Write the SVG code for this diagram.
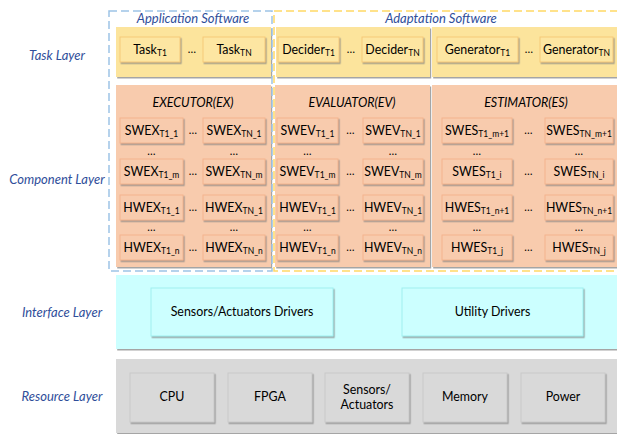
<svg xmlns="http://www.w3.org/2000/svg" width="617" height="434" viewBox="0 0 617 434">
<defs>
<filter id="sh" x="-10%" y="-10%" width="130%" height="140%">
<feDropShadow dx="1.2" dy="1.5" stdDeviation="0.7" flood-color="#7f7f7f" flood-opacity="0.7"/>
</filter>
</defs>
<style>
text{font-family:Lato,"Liberation Sans",sans-serif;fill:#000;}
.lay{font-size:13px;font-style:italic;fill:#2F4E9A;text-anchor:middle;}
.title{font-size:12.5px;font-style:italic;text-anchor:middle;}
.stitle{font-size:13px;font-style:italic;fill:#2F4E9A;text-anchor:middle;}
.t{font-size:12.4px;text-anchor:middle;}
.sub{font-size:8.5px;}
.dots{font-size:11px;text-anchor:middle;}
.ybg{fill:#FCE49C;filter:url(#sh);}
.ybox{fill:#FDE6A2;stroke:#F5C978;stroke-width:1;filter:url(#sh);}
.obg{fill:#F8CBAD;filter:url(#sh);}
.obox{fill:#F8CBAD;stroke:#F3B48E;stroke-width:1;filter:url(#sh);}
.cbg{fill:#CCFFFF;filter:url(#sh);}
.cbox{fill:#CCFFFF;stroke:#9FF0F0;stroke-width:1;filter:url(#sh);}
.gbg{fill:#D9D9D9;filter:url(#sh);}
.gbox{fill:#D9D9D9;stroke:#C9C9C9;stroke-width:1;filter:url(#sh);}
.bdash{fill:none;stroke:#9DC3E6;stroke-width:1.5;stroke-dasharray:8,4;}
.ydash{fill:none;stroke:#FFD966;stroke-width:1.5;stroke-dasharray:8,4;}
</style>

<!-- layer labels -->
<text class="lay" x="57" y="60">Task Layer</text>
<text class="lay" x="57" y="184">Component Layer</text>
<text class="lay" x="62" y="317">Interface Layer</text>
<text class="lay" x="62" y="401">Resource Layer</text>

<!-- backgrounds -->
<g id="task-layer">
<rect class="ybg" x="116" y="27" width="155" height="50"/>
<rect class="ybg" x="276" y="27" width="154" height="50"/>
<rect class="ybg" x="432" y="27" width="185" height="50"/>
</g>

<g id="executor">
<rect class="obg" x="116" y="85" width="155" height="182"/>
<text class="title" x="193" y="107">EXECUTOR(EX)</text>
</g>
<g id="evaluator">
<rect class="obg" x="275" y="85" width="155" height="182"/>
<text class="title" x="352" y="107">EVALUATOR(EV)</text>
</g>
<g id="estimator">
<rect class="obg" x="432" y="85" width="185" height="182"/>
<text class="title" x="526" y="107">ESTIMATOR(ES)</text>
</g>

<!-- software groups -->
<g id="application-software">
<rect class="bdash" x="109" y="11" width="163" height="260"/>
<text class="stitle" x="193" y="23">Application Software</text>
</g>
<g id="adaptation-software">
<path class="ydash" d="M618,11 H274 V271 H618"/>
<text class="stitle" x="441" y="23">Adaptation Software</text>
</g>

<!-- task boxes -->
<g id="task-t1"><rect class="ybox" x="120" y="37" width="60" height="25"/><text class="t" x="150" y="54">Task<tspan class="sub" dy="2">T1</tspan></text></g>
<text class="dots" x="192" y="53">…</text>
<g id="task-tn"><rect class="ybox" x="203" y="37" width="62" height="25"/><text class="t" x="234" y="54">Task<tspan class="sub" dy="2">TN</tspan></text></g>
<g id="decider-t1"><rect class="ybox" x="278" y="37" width="61" height="25"/><text class="t" x="308.5" y="54">Decider<tspan class="sub" dy="2">T1</tspan></text></g>
<text class="dots" x="351" y="53">…</text>
<g id="decider-tn"><rect class="ybox" x="362" y="37" width="61" height="25"/><text class="t" x="392.5" y="54">Decider<tspan class="sub" dy="2">TN</tspan></text></g>
<g id="generator-t1"><rect class="ybox" x="437" y="37" width="81" height="25"/><text class="t" x="477.5" y="54">Generator<tspan class="sub" dy="2">T1</tspan></text></g>
<text class="dots" x="529" y="53">…</text>
<g id="generator-tn"><rect class="ybox" x="540" y="37" width="73" height="25"/><text class="t" x="576.5" y="54">Generator<tspan class="sub" dy="2">TN</tspan></text></g>

<!-- EXECUTOR components -->
<g id="swex-t1-1"><rect class="obox" x="120" y="118" width="63" height="25"/><text class="t" x="151.5" y="135">SWEX<tspan class="sub" dy="2">T1_1</tspan></text></g>
<g id="swex-tn-1"><rect class="obox" x="203" y="118" width="62" height="25"/><text class="t" x="234" y="135">SWEX<tspan class="sub" dy="2">TN_1</tspan></text></g>
<g id="swex-t1-m"><rect class="obox" x="120" y="159" width="63" height="25"/><text class="t" x="151.5" y="176">SWEX<tspan class="sub" dy="2">T1_m</tspan></text></g>
<g id="swex-tn-m"><rect class="obox" x="203" y="159" width="62" height="25"/><text class="t" x="234" y="176">SWEX<tspan class="sub" dy="2">TN_m</tspan></text></g>
<g id="hwex-t1-1"><rect class="obox" x="120" y="195" width="63" height="25"/><text class="t" x="151.5" y="212">HWEX<tspan class="sub" dy="2">T1_1</tspan></text></g>
<g id="hwex-tn-1"><rect class="obox" x="203" y="195" width="62" height="25"/><text class="t" x="234" y="212">HWEX<tspan class="sub" dy="2">TN_1</tspan></text></g>
<g id="hwex-t1-n"><rect class="obox" x="120" y="235" width="63" height="25"/><text class="t" x="151.5" y="252">HWEX<tspan class="sub" dy="2">T1_n</tspan></text></g>
<g id="hwex-tn-n"><rect class="obox" x="203" y="235" width="62" height="25"/><text class="t" x="234" y="252">HWEX<tspan class="sub" dy="2">TN_n</tspan></text></g>
<g class="dots">
<text class="dots" x="193" y="134">…</text><text class="dots" x="193" y="175">…</text><text class="dots" x="193" y="211">…</text><text class="dots" x="193" y="251">…</text>
<text class="dots" x="151.5" y="155">…</text><text class="dots" x="234" y="155">…</text><text class="dots" x="151.5" y="231">…</text><text class="dots" x="234" y="231">…</text>
</g>

<!-- EVALUATOR components -->
<g id="swev-t1-1"><rect class="obox" x="277" y="118" width="61" height="25"/><text class="t" x="307.5" y="135">SWEV<tspan class="sub" dy="2">T1_1</tspan></text></g>
<g id="swev-tn-1"><rect class="obox" x="363" y="118" width="60" height="25"/><text class="t" x="393" y="135">SWEV<tspan class="sub" dy="2">TN_1</tspan></text></g>
<g id="swev-t1-m"><rect class="obox" x="277" y="159" width="61" height="25"/><text class="t" x="307.5" y="176">SWEV<tspan class="sub" dy="2">T1_m</tspan></text></g>
<g id="swev-tn-m"><rect class="obox" x="363" y="159" width="60" height="25"/><text class="t" x="393" y="176">SWEV<tspan class="sub" dy="2">TN_m</tspan></text></g>
<g id="hwev-t1-1"><rect class="obox" x="277" y="195" width="61" height="25"/><text class="t" x="307.5" y="212">HWEV<tspan class="sub" dy="2">T1_1</tspan></text></g>
<g id="hwev-tn-1"><rect class="obox" x="363" y="195" width="60" height="25"/><text class="t" x="393" y="212">HWEV<tspan class="sub" dy="2">TN_1</tspan></text></g>
<g id="hwev-t1-n"><rect class="obox" x="277" y="235" width="61" height="25"/><text class="t" x="307.5" y="252">HWEV<tspan class="sub" dy="2">T1_n</tspan></text></g>
<g id="hwev-tn-n"><rect class="obox" x="363" y="235" width="60" height="25"/><text class="t" x="393" y="252">HWEV<tspan class="sub" dy="2">TN_n</tspan></text></g>
<g class="dots">
<text class="dots" x="350.5" y="134">…</text><text class="dots" x="350.5" y="175">…</text><text class="dots" x="350.5" y="211">…</text><text class="dots" x="350.5" y="251">…</text>
<text class="dots" x="307.5" y="155">…</text><text class="dots" x="393" y="155">…</text><text class="dots" x="307.5" y="231">…</text><text class="dots" x="393" y="231">…</text>
</g>

<!-- ESTIMATOR components -->
<g id="swes-t1-m1"><rect class="obox" x="442" y="118" width="70" height="25"/><text class="t" x="477" y="135">SWES<tspan class="sub" dy="2">T1_m+1</tspan></text></g>
<g id="swes-tn-m1"><rect class="obox" x="545" y="118" width="68" height="25"/><text class="t" x="579" y="135">SWES<tspan class="sub" dy="2">TN_m+1</tspan></text></g>
<g id="swes-t1-i"><rect class="obox" x="442" y="159" width="70" height="25"/><text class="t" x="477" y="176">SWES<tspan class="sub" dy="2">T1_i</tspan></text></g>
<g id="swes-tn-i"><rect class="obox" x="545" y="159" width="68" height="25"/><text class="t" x="579" y="176">SWES<tspan class="sub" dy="2">TN_i</tspan></text></g>
<g id="hwes-t1-n1"><rect class="obox" x="442" y="195" width="70" height="25"/><text class="t" x="477" y="212">HWES<tspan class="sub" dy="2">T1_n+1</tspan></text></g>
<g id="hwes-tn-n1"><rect class="obox" x="545" y="195" width="68" height="25"/><text class="t" x="579" y="212">HWES<tspan class="sub" dy="2">TN_n+1</tspan></text></g>
<g id="hwes-t1-j"><rect class="obox" x="442" y="235" width="70" height="25"/><text class="t" x="477" y="252">HWES<tspan class="sub" dy="2">T1_j</tspan></text></g>
<g id="hwes-tn-j"><rect class="obox" x="545" y="235" width="68" height="25"/><text class="t" x="579" y="252">HWES<tspan class="sub" dy="2">TN_j</tspan></text></g>
<g class="dots">
<text class="dots" x="528.5" y="134">…</text><text class="dots" x="528.5" y="175">…</text><text class="dots" x="528.5" y="211">…</text><text class="dots" x="528.5" y="251">…</text>
<text class="dots" x="477" y="155">…</text><text class="dots" x="579" y="155">…</text><text class="dots" x="477" y="231">…</text><text class="dots" x="579" y="231">…</text>
</g>

<!-- Interface layer -->
<g id="interface-layer"><rect class="cbg" x="116" y="275" width="502" height="74"/></g>
<g id="sensors-actuators-drivers"><rect class="cbox" x="151" y="288" width="182" height="48"/><text class="t" x="242" y="316">Sensors/Actuators Drivers</text></g>
<g id="utility-drivers"><rect class="cbox" x="402" y="288" width="181" height="48"/><text class="t" x="492.5" y="316">Utility Drivers</text></g>

<!-- Resource layer -->
<g id="resource-layer"><rect class="gbg" x="116" y="359" width="502" height="74"/></g>
<g id="cpu"><rect class="gbox" x="130" y="373" width="84" height="49"/><text class="t" x="172" y="401">CPU</text></g>
<g id="fpga"><rect class="gbox" x="228" y="373" width="84" height="49"/><text class="t" x="270" y="401">FPGA</text></g>
<g id="sensors-actuators"><rect class="gbox" x="325" y="373" width="84" height="49"/><text class="t" x="367" y="394">Sensors/</text><text class="t" x="367" y="409">Actuators</text></g>
<g id="memory"><rect class="gbox" x="423" y="373" width="84" height="49"/><text class="t" x="465" y="401">Memory</text></g>
<g id="power"><rect class="gbox" x="521" y="373" width="84" height="49"/><text class="t" x="563" y="401">Power</text></g>

<g id="connectors"></g>
</svg>
